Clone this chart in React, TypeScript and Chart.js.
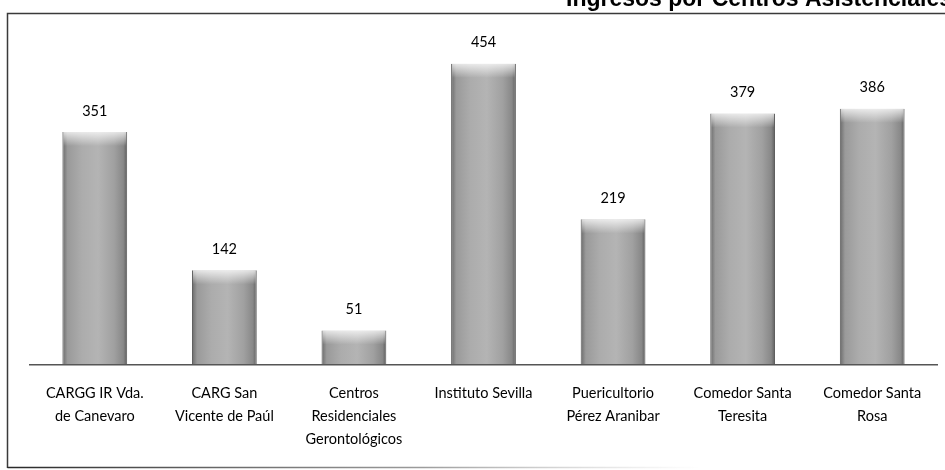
import React, { useEffect, useRef } from "react";
import { Chart, registerables } from "chart.js";

Chart.register(...registerables);

const categories: string[][] = [
  ["CARGG IR Vda.", "de Canevaro"],
  ["CARG San", "Vicente de Paúl"],
  ["Centros", "Residenciales", "Gerontológicos"],
  ["Instituto Sevilla"],
  ["Puericultorio", "Pérez Aranibar"],
  ["Comedor Santa", "Teresita"],
  ["Comedor Santa", "Rosa"],
];
const ingresos: number[] = [351, 142, 51, 454, 219, 379, 386];
const titleText = "Ingresos por Centros Asistenciales";

const framePlugin = {
  id: "frame",
  beforeDraw(chart: any) {
    const ctx = chart.ctx;
    ctx.save();
    ctx.fillStyle = "#ffffff";
    ctx.fillRect(0, 0, chart.width, chart.height);
    ctx.strokeStyle = "#3a3a3a";
    ctx.lineWidth = 1.5;
    ctx.beginPath();
    ctx.moveTo(7.5, 468);
    ctx.lineTo(7.5, 13.5);
    ctx.lineTo(945, 13.5);
    ctx.stroke();
    const g = ctx.createLinearGradient(7, 0, 700, 0);
    g.addColorStop(0, "rgba(40,40,40,1)");
    g.addColorStop(0.6, "rgba(90,90,90,0.6)");
    g.addColorStop(1, "rgba(150,150,150,0)");
    ctx.strokeStyle = g;
    ctx.beginPath();
    ctx.moveTo(7.5, 467.5);
    ctx.lineTo(700, 467.5);
    ctx.stroke();
    ctx.restore();
  },
  afterDraw(chart: any) {
    const ctx = chart.ctx;
    ctx.save();
    ctx.fillStyle = "#000";
    ctx.font = "bold 23px 'Liberation Sans', Arial, sans-serif";
    ctx.textAlign = "left";
    ctx.textBaseline = "alphabetic";
    ctx.fillText(titleText, 566, 6);
    ctx.restore();
  },
};

const barLabelPlugin = {
  id: "barLabels",
  afterDatasetsDraw(chart: any) {
    const ctx = chart.ctx;
    const meta = chart.getDatasetMeta(0);
    const data = chart.data.datasets[0].data;
    ctx.save();
    ctx.font = "14.5px Lato, 'Open Sans', sans-serif";
    ctx.textAlign = "center";
    ctx.textBaseline = "middle";
    meta.data.forEach((bar: any, i: number) => {
      const w = bar.width;
      const hg = ctx.createLinearGradient(0, bar.y, 0, bar.y + 14);
      hg.addColorStop(0, "rgba(255,255,255,0.75)");
      hg.addColorStop(1, "rgba(255,255,255,0)");
      ctx.fillStyle = hg;
      ctx.fillRect(bar.x - w / 2 + 1, bar.y, w - 2, 14);
      ctx.fillStyle = "#000";
      ctx.fillText(String(data[i]), bar.x, bar.y - 21);
    });
    ctx.restore();
  },
};

export default function App() {
  const ref = useRef<HTMLCanvasElement>(null);
  useEffect(() => {
    if (!ref.current) return;
    const chart = new Chart(ref.current, {
      type: "bar",
      data: {
        labels: categories,
        datasets: [
          {
            data: ingresos,
            barPercentage: 0.5,
            categoryPercentage: 1,
            borderColor: "#5a5a5a",
            borderWidth: { left: 1, right: 1, top: 0, bottom: 0 },
            backgroundColor: (c: any) => {
              const chartObj = c.chart;
              const xs = chartObj.scales && chartObj.scales.x;
              if (!xs || c.dataIndex === undefined || !xs.width) return "#a6a6a6";
              const cx = xs.getPixelForValue(c.dataIndex);
              const w = (xs.width / categories.length) * 0.5;
              if (!isFinite(cx) || !isFinite(w)) return "#a6a6a6";
              const g = chartObj.ctx.createLinearGradient(cx - w / 2, 0, cx + w / 2, 0);
              g.addColorStop(0, "#6a6a6a");
              g.addColorStop(0.08, "#9a9a9a");
              g.addColorStop(0.3, "#acacac");
              g.addColorStop(0.55, "#b4b4b4");
              g.addColorStop(0.8, "#a0a0a0");
              g.addColorStop(0.94, "#888888");
              g.addColorStop(1, "#5e5e5e");
              return g;
            },
          },
        ],
      },
      options: {
        animation: false,
        responsive: false,
        maintainAspectRatio: false,
        layout: { padding: { left: 30, right: 8, top: 40, bottom: 1 } },
        plugins: {
          legend: { display: false },
          title: { display: false },
          tooltip: { enabled: false },
        },
        scales: {
          x: {
            grid: { display: false, drawTicks: false },
            border: { display: true, color: "#555555", width: 1.5 },
            ticks: {
              color: "#000",
              padding: 18,
              maxRotation: 0,
              autoSkip: false,
              font: { family: "Lato, 'Open Sans', sans-serif", size: 14.5, lineHeight: 1.58 },
            },
          },
          y: {
            display: false,
            min: 0,
            max: 490,
          },
        },
      },
      plugins: [framePlugin, barLabelPlugin],
    });
    return () => chart.destroy();
  }, []);
  return (
    <div style={{ position: "fixed", left: 0, top: 0, width: 945, height: 470, background: "#fff" }}>
      <canvas ref={ref} width={945} height={470} style={{ width: 945, height: 470, display: "block" }} />
    </div>
  );
}
